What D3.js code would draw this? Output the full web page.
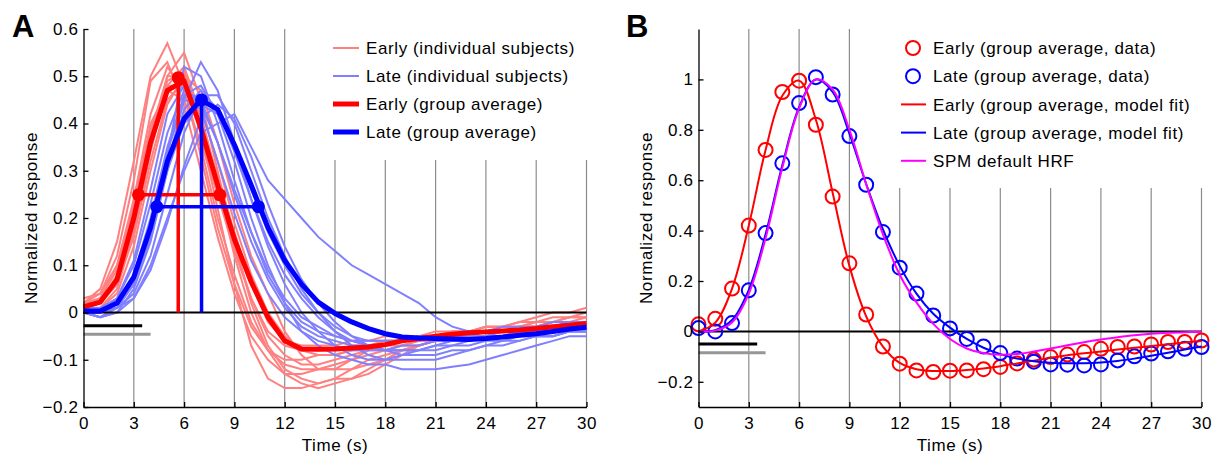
<!DOCTYPE html>
<html>
<head>
<meta charset="utf-8">
<script src="https://cdn.jsdelivr.net/npm/d3@7"></script>
<style>
  body { margin: 0; background: #fff; }
  svg text { font-family: "Liberation Sans", Arial, Helvetica, sans-serif; }
</style>
</head>
<body>
<div id="chart_area"></div>
<script>

// ---- data ----
var timePoints = [0,1,2,3,4,5,6,7,8,9,10,11,12,13,14,15,16,17,18,19,20,21,22,23,24,25,26,27,28,29,30];
var gridTimes = [3,6,9,12,15,18,21,24,27,30];
var xTicks = [0,3,6,9,12,15,18,21,24,27,30];
var xTickLabels = ["0","3","6","9","12","15","18","21","24","27","30"];

var yTicksA = [-0.2,-0.1,0,0.1,0.2,0.3,0.4,0.5,0.6];
var yTickLabelsA = ["\u22120.2","\u22120.1","0","0.1","0.2","0.3","0.4","0.5","0.6"];
var yTicksB = [-0.2,0,0.2,0.4,0.6,0.8,1];
var yTickLabelsB = ["\u22120.2","0","0.2","0.4","0.6","0.8","1"];

// panel A: individual subjects (normalized response, one value per second)
var earlySubjects = [
  [0.02,0.05,0.15,0.32,0.50,0.57,0.48,0.33,0.18,0.06,-0.03,-0.08,-0.10,-0.10,-0.09,-0.09,-0.08,-0.07,-0.07,-0.06,-0.05,-0.05,-0.04,-0.04,-0.03,-0.03,-0.02,-0.02,-0.01,-0.01,-0.01],
  [0.01,0.02,0.06,0.18,0.36,0.50,0.55,0.45,0.30,0.15,0.02,-0.07,-0.12,-0.14,-0.15,-0.14,-0.12,-0.10,-0.09,-0.08,-0.07,-0.06,-0.06,-0.05,-0.05,-0.04,-0.04,-0.03,-0.03,-0.02,-0.02],
  [0.02,0.04,0.12,0.28,0.49,0.53,0.44,0.30,0.16,0.04,-0.05,-0.10,-0.13,-0.13,-0.12,-0.11,-0.10,-0.09,-0.08,-0.07,-0.06,-0.06,-0.05,-0.05,-0.04,-0.04,-0.03,-0.03,-0.02,-0.02,-0.02],
  [0.00,0.01,0.05,0.17,0.34,0.48,0.52,0.42,0.28,0.14,0.03,-0.05,-0.09,-0.11,-0.11,-0.10,-0.09,-0.08,-0.08,-0.07,-0.07,-0.06,-0.06,-0.05,-0.05,-0.05,-0.04,-0.04,-0.04,-0.03,-0.03],
  [0.01,0.02,0.07,0.20,0.38,0.50,0.50,0.38,0.22,0.06,-0.07,-0.14,-0.16,-0.16,-0.15,-0.14,-0.14,-0.13,-0.11,-0.09,-0.07,-0.06,-0.05,-0.05,-0.04,-0.04,-0.03,-0.03,-0.03,-0.02,-0.02],
  [0.02,0.03,0.09,0.22,0.40,0.47,0.45,0.36,0.25,0.13,0.03,-0.04,-0.07,-0.08,-0.08,-0.08,-0.07,-0.07,-0.06,-0.06,-0.06,-0.05,-0.05,-0.04,-0.04,-0.04,-0.03,-0.03,-0.02,-0.02,-0.01],
  [0.00,0.01,0.04,0.14,0.30,0.44,0.50,0.47,0.36,0.23,0.12,0.04,-0.04,-0.09,-0.12,-0.12,-0.10,-0.08,-0.07,-0.06,-0.05,-0.05,-0.04,-0.04,-0.03,-0.03,-0.02,-0.01,0.00,0.00,0.01],
  [0.01,0.03,0.10,0.24,0.42,0.52,0.47,0.35,0.20,0.08,-0.02,-0.08,-0.11,-0.12,-0.12,-0.12,-0.12,-0.11,-0.10,-0.08,-0.07,-0.06,-0.05,-0.04,-0.04,-0.03,-0.03,-0.02,-0.02,-0.01,-0.01],
  [0.02,0.02,0.06,0.16,0.32,0.45,0.49,0.43,0.32,0.19,0.08,0.00,-0.05,-0.08,-0.09,-0.09,-0.08,-0.08,-0.07,-0.07,-0.06,-0.06,-0.05,-0.05,-0.05,-0.04,-0.04,-0.04,-0.03,-0.03,-0.03],
  [0.01,0.02,0.08,0.20,0.37,0.49,0.51,0.41,0.27,0.12,0.00,-0.08,-0.13,-0.15,-0.16,-0.15,-0.14,-0.12,-0.10,-0.08,-0.07,-0.06,-0.05,-0.05,-0.04,-0.04,-0.03,-0.03,-0.02,-0.02,-0.02],
  [0.03,0.04,0.10,0.23,0.39,0.48,0.48,0.40,0.29,0.17,0.06,-0.02,-0.06,-0.07,-0.07,-0.07,-0.06,-0.06,-0.05,-0.05,-0.05,-0.04,-0.04,-0.04,-0.03,-0.03,-0.03,-0.02,-0.02,-0.01,0.00]
];
var lateSubjects = [
  [0.00,0.00,0.02,0.07,0.17,0.31,0.45,0.53,0.47,0.36,0.24,0.14,0.06,0.00,-0.04,-0.07,-0.09,-0.10,-0.10,-0.09,-0.08,-0.07,-0.06,-0.06,-0.05,-0.05,-0.04,-0.04,-0.04,-0.03,-0.03],
  [0.00,-0.01,0.01,0.06,0.16,0.33,0.52,0.50,0.40,0.28,0.17,0.08,0.02,-0.02,-0.04,-0.05,-0.06,-0.06,-0.06,-0.06,-0.05,-0.05,-0.05,-0.04,-0.04,-0.04,-0.04,-0.03,-0.03,-0.03,-0.03],
  [0.00,-0.01,0.00,0.03,0.10,0.20,0.30,0.38,0.40,0.42,0.35,0.28,0.24,0.20,0.16,0.13,0.10,0.08,0.06,0.04,0.02,-0.01,-0.03,-0.04,-0.04,-0.04,-0.04,-0.04,-0.03,-0.03,-0.03],
  [0.01,0.00,0.01,0.04,0.12,0.25,0.38,0.46,0.46,0.40,0.30,0.20,0.12,0.05,0.00,-0.04,-0.07,-0.09,-0.10,-0.10,-0.10,-0.10,-0.09,-0.08,-0.07,-0.06,-0.06,-0.05,-0.05,-0.04,-0.04],
  [0.00,0.00,0.02,0.08,0.20,0.35,0.46,0.48,0.42,0.32,0.20,0.10,0.02,-0.04,-0.07,-0.09,-0.10,-0.11,-0.11,-0.12,-0.12,-0.12,-0.115,-0.11,-0.10,-0.09,-0.08,-0.07,-0.06,-0.05,-0.05],
  [0.00,-0.01,0.00,0.05,0.15,0.30,0.43,0.47,0.43,0.34,0.24,0.15,0.08,0.03,-0.01,-0.04,-0.06,-0.07,-0.08,-0.08,-0.08,-0.07,-0.07,-0.06,-0.05,-0.05,-0.04,-0.04,-0.03,-0.03,-0.02],
  [0.01,0.01,0.03,0.10,0.23,0.38,0.47,0.45,0.36,0.25,0.15,0.07,0.01,-0.03,-0.05,-0.06,-0.07,-0.07,-0.07,-0.06,-0.06,-0.05,-0.05,-0.05,-0.04,-0.04,-0.04,-0.03,-0.03,-0.02,-0.02],
  [0.00,0.00,0.01,0.03,0.09,0.19,0.31,0.41,0.44,0.41,0.33,0.23,0.14,0.07,0.02,-0.02,-0.05,-0.07,-0.08,-0.09,-0.09,-0.09,-0.08,-0.08,-0.07,-0.07,-0.06,-0.05,-0.05,-0.04,-0.04],
  [0.00,-0.01,0.01,0.06,0.18,0.34,0.45,0.44,0.36,0.26,0.17,0.09,0.03,-0.01,-0.03,-0.05,-0.06,-0.07,-0.08,-0.08,-0.08,-0.08,-0.07,-0.07,-0.06,-0.06,-0.05,-0.05,-0.05,-0.04,-0.04],
  [0.01,0.00,0.02,0.07,0.17,0.30,0.40,0.44,0.42,0.35,0.26,0.17,0.10,0.04,0.00,-0.03,-0.05,-0.06,-0.06,-0.06,-0.05,-0.05,-0.05,-0.04,-0.04,-0.03,-0.03,-0.03,-0.02,-0.02,-0.02],
  [0.00,0.00,0.03,0.11,0.26,0.42,0.48,0.43,0.32,0.21,0.11,0.04,-0.01,-0.04,-0.06,-0.07,-0.08,-0.08,-0.08,-0.07,-0.07,-0.06,-0.06,-0.05,-0.05,-0.04,-0.04,-0.04,-0.03,-0.03,-0.03]
];

// panel A: group averages
var earlyAverage = [0.012,0.022,0.07,0.20,0.36,0.47,0.49,0.39,0.27,0.155,0.065,-0.01,-0.06,-0.077,-0.078,-0.077,-0.075,-0.073,-0.068,-0.06,-0.055,-0.05,-0.046,-0.043,-0.041,-0.039,-0.037,-0.034,-0.03,-0.027,-0.023];
var lateAverage = [0.003,0.003,0.02,0.075,0.18,0.32,0.41,0.45,0.43,0.355,0.27,0.18,0.11,0.06,0.022,-0.002,-0.02,-0.034,-0.045,-0.052,-0.054,-0.055,-0.056,-0.057,-0.055,-0.052,-0.048,-0.045,-0.04,-0.035,-0.031];

// time to peak / peak value, and half-maximum crossings
var earlyPeak = [5.65, 0.497];
var latePeak = [7.04, 0.45];
var earlyHalfMax = [3.28, 8.13, 0.249];
var lateHalfMax = [4.37, 10.43, 0.224];

// stimulus bars (end time in s) and their levels in each panel
var stimBarEnds = [3.5, 4.0];
var stimBarLevelsA = [-0.028, -0.046];
var stimBarLevelsB = [-0.05, -0.085];

// panel B: group average data and model fits
var earlyData = [0.028,0.05,0.17,0.42,0.72,0.95,0.995,0.82,0.535,0.27,0.067,-0.06,-0.128,-0.155,-0.161,-0.156,-0.155,-0.15,-0.141,-0.127,-0.112,-0.102,-0.092,-0.082,-0.069,-0.062,-0.06,-0.052,-0.042,-0.042,-0.036];
var lateData = [0.013,0.0,0.033,0.163,0.39,0.667,0.906,1.009,0.94,0.775,0.582,0.394,0.253,0.15,0.063,0.012,-0.03,-0.06,-0.086,-0.108,-0.12,-0.131,-0.132,-0.135,-0.131,-0.115,-0.099,-0.088,-0.079,-0.069,-0.062];
var earlyFit = [0.0,0.035,0.17,0.42,0.72,0.935,0.995,0.84,0.55,0.26,0.06,-0.06,-0.125,-0.15,-0.157,-0.157,-0.153,-0.147,-0.138,-0.127,-0.116,-0.105,-0.095,-0.087,-0.08,-0.072,-0.065,-0.058,-0.051,-0.044,-0.038];
var lateFit = [0.0,0.005,0.045,0.165,0.385,0.66,0.89,1.0,0.95,0.785,0.585,0.405,0.26,0.15,0.07,0.015,-0.03,-0.065,-0.09,-0.108,-0.118,-0.124,-0.126,-0.126,-0.123,-0.117,-0.108,-0.097,-0.085,-0.072,-0.06];
var spmHrf = [0.0,0.003,0.035,0.15,0.37,0.65,0.885,1.0,0.96,0.8,0.585,0.385,0.225,0.115,0.03,-0.03,-0.068,-0.086,-0.093,-0.09,-0.08,-0.068,-0.055,-0.043,-0.032,-0.023,-0.015,-0.009,-0.005,-0.003,-0.002];

var legendLabelsA = ["Early (individual subjects)", "Late (individual subjects)", "Early (group average)", "Late (group average)"];
var legendLabelsB = ["Early (group average, data)", "Late (group average, data)", "Early (group average, model fit)", "Late (group average, model fit)", "SPM default HRF"];

// ---- drawing ----
var frame = d3.select("#chart_area").append("svg")
  .attr("width", 1214)
  .attr("height", 454);

var fontSize = "17px";
var gridColour = "#8c8c8c";

var xScaleA = d3.scaleLinear().domain([0, 30]).range([83.5, 586.5]);
var yScaleA = d3.scaleLinear().domain([-0.2, 0.6]).range([407, 29]);
var xScaleB = d3.scaleLinear().domain([0, 30]).range([698.5, 1201.5]);
var yScaleB = d3.scaleLinear().domain([-0.3, 1.2]).range([407, 29]);

function series(values) {
  return values.map(function (v, i) { return [timePoints[i], v]; });
}

function drawGrid(canvas, xs, ys) {
  canvas.append("g").selectAll("line")
    .data(gridTimes).enter().append("line")
    .attr("x1", function (d) { return xs(d); })
    .attr("x2", function (d) { return xs(d); })
    .attr("y1", ys.range()[1])
    .attr("y2", ys.range()[0])
    .attr("stroke", gridColour)
    .attr("stroke-width", 1.2);
}

function drawStimBars(canvas, xs, ys, levels) {
  var colours = ["#000", "#969696"];
  levels.forEach(function (lv, i) {
    canvas.append("line")
      .attr("x1", xs(0)).attr("x2", xs(stimBarEnds[i]))
      .attr("y1", ys(lv)).attr("y2", ys(lv))
      .attr("stroke", colours[i])
      .attr("stroke-width", 3);
  });
}

function drawZero(canvas, xs, ys) {
  canvas.append("line")
    .attr("x1", xs(0)).attr("x2", xs(30))
    .attr("y1", ys(0)).attr("y2", ys(0))
    .attr("stroke", "#000")
    .attr("stroke-width", 2);
}

function drawAxes(canvas, xs, ys, yTicks, yLabels) {
  var xAxis = d3.axisBottom(xs)
    .tickValues(xTicks)
    .tickFormat(function (d, i) { return xTickLabels[i]; })
    .tickSizeInner(-5).tickSizeOuter(0).tickPadding(10);
  var yAxis = d3.axisLeft(ys)
    .tickValues(yTicks)
    .tickFormat(function (d, i) { return yLabels[i]; })
    .tickSizeInner(-5).tickSizeOuter(0).tickPadding(5);

  var gx = canvas.append("g")
    .attr("transform", "translate(0," + ys.range()[0] + ")")
    .call(xAxis);
  var gy = canvas.append("g")
    .attr("transform", "translate(" + xs.range()[0] + ",0)")
    .call(yAxis);

  [gx, gy].forEach(function (g) {
    g.attr("font-family", null).attr("font-size", null);
    g.select(".domain").attr("stroke", "#000").attr("stroke-width", 1.3);
    g.selectAll(".tick line").attr("stroke", "#000").attr("stroke-width", 1.3);
    g.selectAll(".tick text")
      .attr("fill", "#000")
      .style("font-size", fontSize)
      .style("letter-spacing", "0.6px");
  });

  canvas.append("text")
    .attr("x", (xs.range()[0] + xs.range()[1]) / 2)
    .attr("y", 451)
    .attr("text-anchor", "middle")
    .style("font-size", fontSize)
    .style("letter-spacing", "0.6px")
    .text("Time (s)");

  canvas.append("text")
    .attr("transform", "translate(" + (xs.range()[0] - 47) + ",218) rotate(-90)")
    .attr("text-anchor", "middle")
    .style("font-size", fontSize)
    .style("letter-spacing", "0.6px")
    .text("Normalized response");
}

function panelLetter(x, label) {
  frame.append("text")
    .attr("x", x).attr("y", 37)
    .style("font-size", "31px")
    .style("font-weight", "bold")
    .text(label);
}

// ===== Panel A =====
var canvasA = frame.append("g");
drawGrid(canvasA, xScaleA, yScaleA);
drawStimBars(canvasA, xScaleA, yScaleA, stimBarLevelsA);

var lineA = d3.line()
  .x(function (d) { return xScaleA(d[0]); })
  .y(function (d) { return yScaleA(d[1]); });

canvasA.append("g").selectAll("path")
  .data(earlySubjects).enter().append("path")
  .attr("d", function (d) { return lineA(series(d)); })
  .attr("fill", "none")
  .attr("stroke", "#ff8080")
  .attr("stroke-width", 2);

canvasA.append("g").selectAll("path")
  .data(lateSubjects).enter().append("path")
  .attr("d", function (d) { return lineA(series(d)); })
  .attr("fill", "none")
  .attr("stroke", "#8080ff")
  .attr("stroke-width", 2);

drawZero(canvasA, xScaleA, yScaleA);

[[earlyAverage, earlyPeak, earlyHalfMax, "#ff0000"], [lateAverage, latePeak, lateHalfMax, "#0000ff"]].forEach(function (g) {
  var avg = g[0], peak = g[1], half = g[2], colour = g[3];
  canvasA.append("path")
    .attr("d", lineA(series(avg)))
    .attr("fill", "none")
    .attr("stroke", colour)
    .attr("stroke-width", 5)
    .attr("stroke-linejoin", "round");
  // time to peak
  canvasA.append("line")
    .attr("x1", xScaleA(peak[0])).attr("x2", xScaleA(peak[0]))
    .attr("y1", yScaleA(0)).attr("y2", yScaleA(peak[1]))
    .attr("stroke", colour).attr("stroke-width", 3.5);
  // full width at half maximum
  canvasA.append("line")
    .attr("x1", xScaleA(half[0])).attr("x2", xScaleA(half[1]))
    .attr("y1", yScaleA(half[2])).attr("y2", yScaleA(half[2]))
    .attr("stroke", colour).attr("stroke-width", 3.5);
  canvasA.selectAll(null)
    .data([[peak[0], peak[1]], [half[0], half[2]], [half[1], half[2]]])
    .enter().append("circle")
    .attr("cx", function (d) { return xScaleA(d[0]); })
    .attr("cy", function (d) { return yScaleA(d[1]); })
    .attr("r", 6.5)
    .attr("fill", colour);
});

drawAxes(canvasA, xScaleA, yScaleA, yTicksA, yTickLabelsA);

// legend A
var legendA = frame.append("g");
legendA.append("rect")
  .attr("x", 320).attr("y", 24).attr("width", 290).attr("height", 136)
  .attr("fill", "#fff");
var legendStylesA = [["#ff8080", 2], ["#8080ff", 2], ["#ff0000", 5], ["#0000ff", 5]];
legendLabelsA.forEach(function (label, i) {
  var yy = 48 + i * 28;
  legendA.append("line")
    .attr("x1", 333).attr("x2", 359)
    .attr("y1", yy).attr("y2", yy)
    .attr("stroke", legendStylesA[i][0])
    .attr("stroke-width", legendStylesA[i][1]);
  legendA.append("text")
    .attr("x", 366).attr("y", yy)
    .attr("dy", "0.36em")
    .style("font-size", fontSize)
    .style("letter-spacing", "0.6px")
    .text(label);
});

// ===== Panel B =====
var canvasB = frame.append("g");
drawGrid(canvasB, xScaleB, yScaleB);
drawStimBars(canvasB, xScaleB, yScaleB, stimBarLevelsB);
drawZero(canvasB, xScaleB, yScaleB);

var lineB = d3.line()
  .curve(d3.curveCatmullRom)
  .x(function (d) { return xScaleB(d[0]); })
  .y(function (d) { return yScaleB(d[1]); });

[[earlyData, "#ff0000"], [lateData, "#0000ff"]].forEach(function (g) {
  canvasB.append("g").selectAll("circle")
    .data(series(g[0])).enter().append("circle")
    .attr("cx", function (d) { return xScaleB(d[0]); })
    .attr("cy", function (d) { return yScaleB(d[1]); })
    .attr("r", 7)
    .attr("fill", "none")
    .attr("stroke", g[1])
    .attr("stroke-width", 2);
});

[[earlyFit, "#ff0000"], [lateFit, "#0000ff"], [spmHrf, "#ff00ff"]].forEach(function (g) {
  canvasB.append("path")
    .attr("d", lineB(series(g[0])))
    .attr("fill", "none")
    .attr("stroke", g[1])
    .attr("stroke-width", 2);
});

drawAxes(canvasB, xScaleB, yScaleB, yTicksB, yTickLabelsB);

// legend B
var legendB = frame.append("g");
legendB.append("rect")
  .attr("x", 893).attr("y", 24).attr("width", 321).attr("height", 164)
  .attr("fill", "#fff");
var legendColoursB = ["#ff0000", "#0000ff", "#ff0000", "#0000ff", "#ff00ff"];
legendLabelsB.forEach(function (label, i) {
  var yy = 48 + i * 28.2;
  if (i < 2) {
    legendB.append("circle")
      .attr("cx", 913).attr("cy", yy).attr("r", 7)
      .attr("fill", "none")
      .attr("stroke", legendColoursB[i])
      .attr("stroke-width", 2);
  } else {
    legendB.append("line")
      .attr("x1", 901).attr("x2", 926)
      .attr("y1", yy).attr("y2", yy)
      .attr("stroke", legendColoursB[i])
      .attr("stroke-width", 2);
  }
  legendB.append("text")
    .attr("x", 933).attr("y", yy)
    .attr("dy", "0.36em")
    .style("font-size", fontSize)
    .style("letter-spacing", "0.6px")
    .text(label);
});

panelLetter(12, "A");
panelLetter(626, "B");

</script>
</body>
</html>
